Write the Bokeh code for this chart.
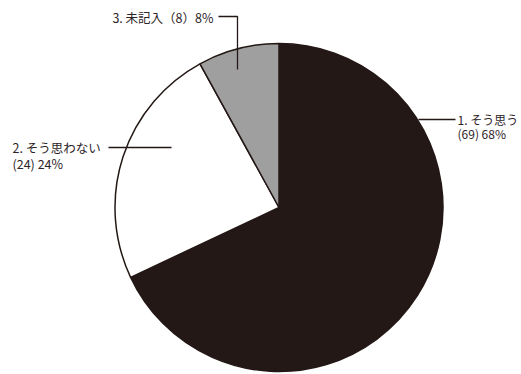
import math
from bokeh.plotting import figure
from bokeh.models import Range1d, ColumnDataSource
from bokeh.core.properties import value
from bokeh.embed import file_html
from bokeh.resources import INLINE

# data
categories = ["1. そう思う", "2. そう思わない", "3. 未記入"]
counts = [69, 24, 8]
percents = [68, 24, 8]
colors = ["#231816", "#ffffff", "#9f9f9f"]

W, H = 521, 374
p = figure(width=W, height=H, x_range=Range1d(0, W), y_range=Range1d(0, H),
           output_backend="svg", toolbar_location=None, min_border=0)
p.axis.visible = False
p.grid.visible = False
p.outline_line_color = None
p.background_fill_color = "white"
p.border_fill_color = "white"

cx, cy, r = 278.5, H - 207, 164

starts, ends = [], []
a = 90.0
for pc in percents:
    starts.append(math.radians(a))
    a -= pc * 3.6
    ends.append(math.radians(a))

src = ColumnDataSource(dict(start=starts, end=ends, color=colors))
p.wedge(x=cx, y=cy, radius=r, start_angle="start", end_angle="end",
        direction="clock", fill_color="color", line_color="#231816",
        line_width=1.5, source=src)

# leader lines
lc = "#231816"
p.line([218, 237, 237], [H - 16, H - 16, H - 69], line_color=lc, line_width=1.3)
p.line([108, 171], [H - 147, H - 147], line_color=lc, line_width=1.3)
p.line([418, 455], [H - 119, H - 119], line_color=lc, line_width=1.3)

font = value("Noto Sans CJK JP")
tc = "#2e2427"

def lab(x, y, t, align="left", size="12.5px"):
    p.text(x=[x], y=[H - y], text=[t], text_font=font, text_font_size=size,
           text_color=tc, text_align=align, text_baseline="middle")

lab(213, 17, f"{categories[2]}（{counts[2]}）{percents[2]}%", align="right")
lab(12, 147, categories[1])
lab(12, 163, f"({counts[1]})  {percents[1]}%")
lab(457, 119, categories[0], size="12px")
lab(457, 133, f"({counts[0]})  {percents[0]}%", size="12px")

open("out.html", "w").write(file_html(p, INLINE))
